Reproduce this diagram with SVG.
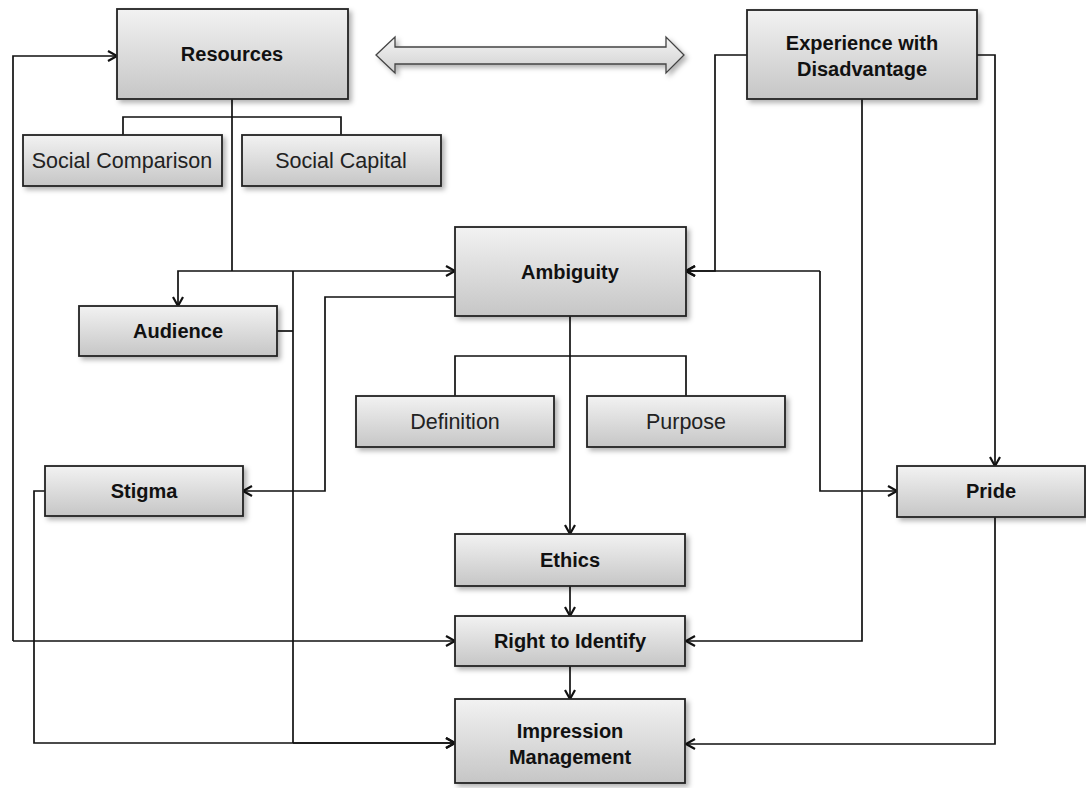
<svg xmlns="http://www.w3.org/2000/svg" width="1086" height="788" viewBox="0 0 1086 788">
<defs>
<linearGradient id="g" x1="0" y1="0" x2="0" y2="1">
<stop offset="0" stop-color="#f2f2f2"/>
<stop offset="1" stop-color="#c6c6c6"/>
</linearGradient>
<linearGradient id="ga" x1="0" y1="0" x2="0" y2="1">
<stop offset="0" stop-color="#f4f4f4"/>
<stop offset="1" stop-color="#d0d0d0"/>
</linearGradient>
<filter id="sh" x="-10%" y="-10%" width="130%" height="140%">
<feDropShadow dx="3" dy="3" stdDeviation="2.5" flood-color="#000" flood-opacity="0.3"/>
</filter>
<marker id="ar" markerUnits="userSpaceOnUse" markerWidth="14" markerHeight="14" refX="11" refY="7" orient="auto">
<path d="M2,2 L11,7 L2,12" fill="none" stroke="#111" stroke-width="2.2"/>
</marker>
</defs>
<style>
.box{fill:url(#g);stroke:#222;stroke-width:1.8;filter:url(#sh)}
.b{font-family:"Liberation Sans",Arial,sans-serif;font-size:20px;font-weight:bold;fill:#111;text-anchor:middle}
.r{font-family:"Liberation Sans",Arial,sans-serif;font-size:21.5px;fill:#222;text-anchor:middle}
.c{fill:none;stroke:#111;stroke-width:1.7}
.ca{fill:none;stroke:#111;stroke-width:1.7;marker-end:url(#ar)}
</style>
<rect width="1086" height="788" fill="#fff"/>
<g id="connectors">
<polyline class="ca" points="13,641 13,56 117,56"/>
<polyline class="ca" points="13,641 455,641"/>
<polyline class="c" points="123,135 123,117 341,117 341,135"/>
<polyline class="c" points="232,99 232,271"/>
<polyline class="ca" points="232,271 178,271 178,306"/>
<polyline class="ca" points="232,271 455,271"/>
<polyline class="c" points="277,331 293,331"/>
<polyline class="c" points="293,271 293,743"/>
<polyline class="ca" points="293,743 455,743"/>
<polyline class="ca" points="455,297 325,297 325,491 243,491"/>
<polyline class="ca" points="45,491 34,491 34,743 455,743"/>
<polyline class="c" points="455,396 455,356 686,356 686,396"/>
<polyline class="ca" points="570,316 570,534"/>
<polyline class="ca" points="570,586 570,616"/>
<polyline class="ca" points="570,666 570,699"/>
<polyline class="ca" points="747,55 715,55 715,271 686,271"/>
<polyline class="ca" points="820,271 686,271"/>
<polyline class="ca" points="820,271 820,491 897,491"/>
<polyline class="ca" points="862,99 862,641 686,641"/>
<polyline class="ca" points="977,55 995,55 995,466"/>
<polyline class="ca" points="995,517 995,744 686,744"/>
</g>
<g id="double-arrow">
<polygon points="376,55 395,37 395,47 666,47 666,37 684,55 666,73 666,64 395,64 395,73" fill="url(#ga)" stroke="#444" stroke-width="1.3" filter="url(#sh)"/>
</g>
<g id="resources"><rect class="box" x="117" y="9" width="231" height="90"/><text class="b" x="232" y="61">Resources</text></g>
<g id="social-comparison"><rect class="box" x="23" y="135" width="199" height="51"/><text class="r" x="122" y="168">Social Comparison</text></g>
<g id="social-capital"><rect class="box" x="242" y="135" width="199" height="51"/><text class="r" x="341" y="168">Social Capital</text></g>
<g id="experience"><rect class="box" x="747" y="10" width="230" height="89"/><text class="b" x="862" y="50">Experience with</text><text class="b" x="862" y="76">Disadvantage</text></g>
<g id="ambiguity"><rect class="box" x="455" y="227" width="231" height="89"/><text class="b" x="570" y="279">Ambiguity</text></g>
<g id="audience"><rect class="box" x="79" y="306" width="198" height="50"/><text class="b" x="178" y="338">Audience</text></g>
<g id="definition"><rect class="box" x="356" y="396" width="198" height="51"/><text class="r" x="455" y="429">Definition</text></g>
<g id="purpose"><rect class="box" x="587" y="396" width="198" height="51"/><text class="r" x="686" y="429">Purpose</text></g>
<g id="stigma"><rect class="box" x="45" y="466" width="198" height="50"/><text class="b" x="144" y="498">Stigma</text></g>
<g id="pride"><rect class="box" x="897" y="466" width="188" height="51"/><text class="b" x="991" y="498">Pride</text></g>
<g id="ethics"><rect class="box" x="455" y="534" width="230" height="52"/><text class="b" x="570" y="567">Ethics</text></g>
<g id="right-to-identify"><rect class="box" x="455" y="616" width="230" height="50"/><text class="b" x="570" y="648">Right to Identify</text></g>
<g id="impression-management"><rect class="box" x="455" y="699" width="230" height="84"/><text class="b" x="570" y="738">Impression</text><text class="b" x="570" y="764">Management</text></g>
</svg>
